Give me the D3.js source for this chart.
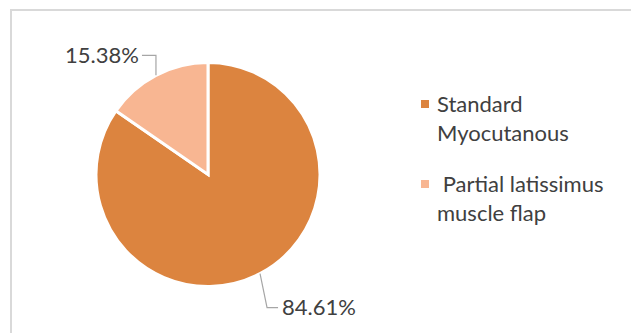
<!DOCTYPE html>
<html>
<head>
<meta charset="utf-8">
<script src="https://cdn.jsdelivr.net/npm/d3@7"></script>
<style>
  body { margin: 0; background: #fff; }
  text { font-family: Lato, "Open Sans", sans-serif; fill: #404040; }
</style>
</head>
<body>
<div id="pie-container"></div>
<script>
// chart data
const categories = ['Standard Myocutanous', ' Partial latissimus muscle flap'];
const legendLines = [['Standard', 'Myocutanous'], [' Partial latissimus', 'muscle flap']];
const values = [84.61, 15.38];
const valueLabels = ['84.61%', '15.38%'];

const width = 631, height = 333;
const cx = 208, cy = 174.5, radius = 112;
const fontSize = 22;

const colorScale = d3.scaleOrdinal()
  .domain(categories)
  .range(['#DC843F', '#F8B692']);

const svg = d3.select('#pie-container')
  .append('svg')
  .attr('width', width)
  .attr('height', height);

// chart frame
svg.append('rect')
  .attr('x', 11).attr('y', 10)
  .attr('width', width).attr('height', height)
  .style('fill', 'none')
  .style('stroke', '#d9d9d9')
  .style('stroke-width', 2);

const g = svg.append('g')
  .attr('transform', `translate(${cx}, ${cy})`);

const pieGenerator = d3.pie()
  .sort(null)
  .value(d => d.value);

const arcGenerator = d3.arc()
  .innerRadius(0)
  .outerRadius(radius);

const pieData = pieGenerator(categories.map((c, i) => ({ name: c, value: values[i] })));

g.selectAll('path.slice')
  .data(pieData)
  .enter()
  .append('path')
  .attr('class', 'slice')
  .attr('d', arcGenerator)
  .style('fill', d => colorScale(d.data.name))
  .style('stroke', '#ffffff')
  .style('stroke-width', 3);

// leader lines: edge point -> elbow -> short horizontal tail
const leader = [
  { dx: 7, dy: 34, tail: 11 },
  { dx: 0, dy: -20, tail: -14 }
];

pieData.forEach((d, i) => {
  const mid = (d.startAngle + d.endAngle) / 2;
  const p0 = [Math.sin(mid) * radius, -Math.cos(mid) * radius];
  const p1 = [p0[0] + leader[i].dx, p0[1] + leader[i].dy];
  const p2 = [p1[0] + leader[i].tail, p1[1]];
  g.append('polyline')
    .attr('points', [p0, p1, p2].map(p => p.join(',')).join(' '))
    .style('fill', 'none')
    .style('stroke', '#a6a6a6')
    .style('stroke-width', 1.2);
  const right = leader[i].tail > 0;
  g.append('text')
    .attr('x', p2[0] + (right ? 4 : -3))
    .attr('y', p2[1])
    .attr('dy', '0.35em')
    .attr('text-anchor', right ? 'start' : 'end')
    .style('font-size', fontSize + 'px')
    .text(valueLabels[i]);
});

// legend
const legend = svg.append('g').attr('transform', 'translate(421, 0)');
const itemY = [112, 192];
categories.forEach((c, i) => {
  legend.append('rect')
    .attr('x', 0)
    .attr('y', itemY[i] - 12)
    .attr('width', 8).attr('height', 8)
    .style('fill', colorScale(c));
  const t = legend.append('text')
    .attr('x', 16)
    .attr('y', itemY[i])
    .attr('xml:space', 'preserve')
    .style('white-space', 'pre')
    .style('font-size', fontSize + 'px');
  legendLines[i].forEach((line, j) => {
    t.append('tspan')
      .attr('x', 16)
      .attr('y', itemY[i] + j * 29)
      .text(line);
  });
});
</script>
</body>
</html>
